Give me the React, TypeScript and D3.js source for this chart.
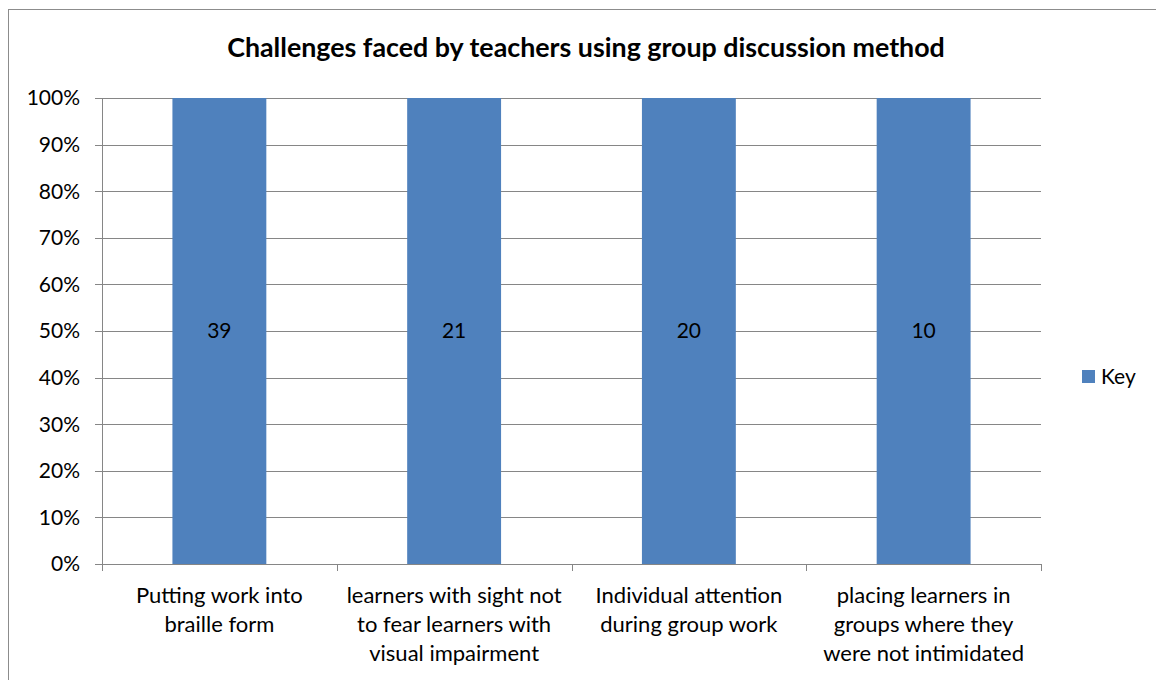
import React, { useEffect, useRef } from "react";
import * as d3 from "d3";

// 100% stacked column chart, single series "Key"

const categories = [
  ["Putting work into", "braille form"],
  ["learners with sight not", "to fear learners with", "visual impairment"],
  ["Individual attention", "during group work"],
  ["placing learners in", "groups where they", "were not intimidated"],
];
const counts = [39, 21, 20, 10];
const yTicks = [0, 10, 20, 30, 40, 50, 60, 70, 80, 90, 100];
const seriesName = "Key";
const title = "Challenges faced by teachers using group discussion method";

const FONT = "Lato, 'Open Sans', sans-serif";

export default function App() {
  const ref = useRef<SVGSVGElement>(null);

  useEffect(() => {
    const svg = d3.select(ref.current);
    svg.selectAll("*").remove();

    const plot = { left: 102, right: 1041, top: 98, bottom: 564 };

    // chart frame
    svg.append("rect")
      .attr("x", 8.5).attr("y", 9.5)
      .attr("width", 1160).attr("height", 690)
      .attr("fill", "#fff").attr("stroke", "#8c8c8c").attr("stroke-width", 1);

    svg.append("text")
      .attr("x", 586).attr("y", 57)
      .attr("text-anchor", "middle")
      .attr("font-family", FONT).attr("font-weight", "bold").attr("font-size", 26.8)
      .attr("fill", "#000")
      .text(title);

    const x = d3.scaleBand<number>()
      .domain(counts.map((_, i) => i))
      .range([plot.left, plot.right])
      .paddingInner(0.6).paddingOuter(0.3);
    const xCat = d3.scaleBand<number>()
      .domain(counts.map((_, i) => i))
      .range([plot.left, plot.right]);

    const y = d3.scaleLinear().domain([0, 100]).range([plot.bottom, plot.top]);

    // gridlines
    svg.append("g").selectAll("line")
      .data(yTicks)
      .join("line")
      .attr("x1", plot.left - 7).attr("x2", plot.right)
      .attr("y1", d => Math.round(y(d)) + 0.5).attr("y2", d => Math.round(y(d)) + 0.5)
      .attr("stroke", "#868686").attr("stroke-width", 1);

    // y labels
    svg.append("g").selectAll("text")
      .data(yTicks)
      .join("text")
      .attr("x", 80).attr("y", d => y(d))
      .attr("dy", "0.35em")
      .attr("text-anchor", "end")
      .attr("font-family", FONT).attr("font-size", 21)
      .attr("fill", "#000")
      .text(d => d + "%");

    // y axis line
    svg.append("line")
      .attr("x1", plot.left + 0.5).attr("x2", plot.left + 0.5)
      .attr("y1", plot.top).attr("y2", plot.bottom)
      .attr("stroke", "#868686");

    // x ticks
    const xTickPos = counts.map((_, i) => xCat(i)!).concat([plot.right]);
    svg.append("g").selectAll("line")
      .data(xTickPos)
      .join("line")
      .attr("x1", d => Math.round(d) + 0.5).attr("x2", d => Math.round(d) + 0.5)
      .attr("y1", plot.bottom).attr("y2", plot.bottom + 7)
      .attr("stroke", "#868686");

    // bars: each category is 100% of itself
    const pct = counts.map(c => (c / c) * 100);
    svg.append("g").selectAll("rect")
      .data(pct)
      .join("rect")
      .attr("x", (_, i) => x(i)!)
      .attr("width", x.bandwidth())
      .attr("y", d => y(d))
      .attr("height", d => y(0) - y(d))
      .attr("fill", "#4f81bd");

    // redraw baseline on top of bars
    svg.append("line")
      .attr("x1", plot.left - 7).attr("x2", plot.right)
      .attr("y1", plot.bottom + 0.5).attr("y2", plot.bottom + 0.5)
      .attr("stroke", "#868686");

    // data labels
    svg.append("g").selectAll("text")
      .data(counts)
      .join("text")
      .attr("x", (_, i) => x(i)! + x.bandwidth() / 2)
      .attr("y", y(50))
      .attr("dy", "0.35em")
      .attr("text-anchor", "middle")
      .attr("font-family", FONT).attr("font-size", 21)
      .attr("fill", "#000")
      .text(d => d);

    // category labels
    const cat = svg.append("g").selectAll("text")
      .data(categories)
      .join("text")
      .attr("x", (_, i) => xCat(i)! + xCat.bandwidth() / 2)
      .attr("y", 603)
      .attr("text-anchor", "middle")
      .attr("font-family", FONT).attr("font-size", 22)
      .attr("fill", "#000");
    cat.selectAll("tspan")
      .data(d => d)
      .join("tspan")
      .attr("x", function () { return (this.parentNode as SVGTextElement).getAttribute("x"); })
      .attr("dy", (_, j) => (j === 0 ? 0 : 29))
      .text(d => d);

    // legend
    svg.append("rect")
      .attr("x", 1082).attr("y", 370)
      .attr("width", 13).attr("height", 13)
      .attr("fill", "#4f81bd");
    svg.append("text")
      .attr("x", 1101).attr("y", 377)
      .attr("dy", "0.35em")
      .attr("font-family", FONT).attr("font-size", 21)
      .attr("fill", "#000")
      .text(seriesName);
  }, []);

  return (
    <svg ref={ref} width={1156} height={680} style={{ position: "absolute", left: 0, top: 0 }} />
  );
}
